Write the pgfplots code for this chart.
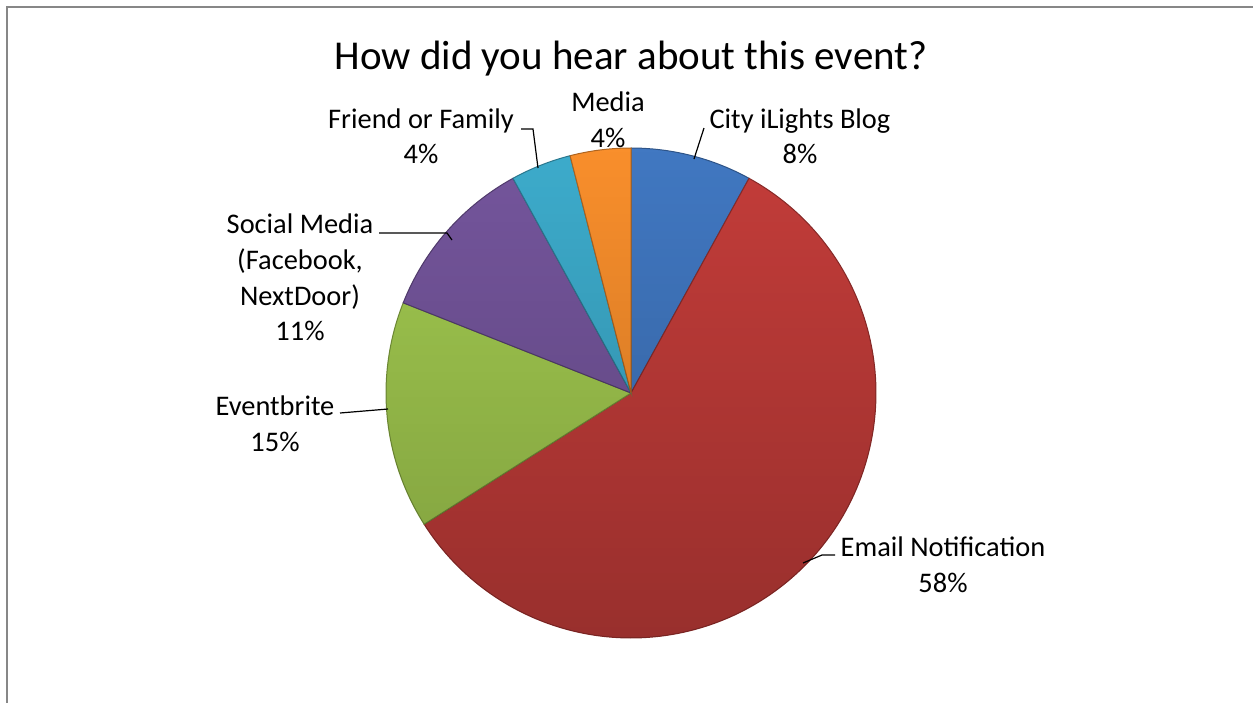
\documentclass[border=0pt]{standalone}
\usepackage{fontspec}
\setmainfont{Carlito}
\usepackage{pgfplots}
\pgfplotsset{compat=1.18}
\usetikzlibrary{fadings}
\definecolor{cBlue}{HTML}{4178C2}
\definecolor{cRed}{HTML}{C43D3A}
\definecolor{cGreen}{HTML}{A3CB50}
\definecolor{cPurple}{HTML}{75569D}
\definecolor{cAqua}{HTML}{3DACCC}
\definecolor{cOrange}{HTML}{F98F2C}
\newcommand{\lab}{\fontsize{14.2}{17}\selectfont}
\begin{document}
\begin{tikzpicture}[x=0.5pt,y=-0.5pt]
\path[use as bounding box] (0,0) rectangle (1253,702);
\draw[color=black!47, line width=1.1pt] (7,703) -- (7,7) -- (1254,7);
% shares in percent: City iLights Blog 8, Email Notification 58, Eventbrite 15,
% Social Media 11, Friend or Family 4, Media 4 (clockwise from the top)
\begin{axis}[at={(315.5pt,-196.5pt)}, anchor=center, x=122.5pt, y=122.5pt,
  xmin=-1.3, xmax=1.3, ymin=-1.3, ymax=1.3, hide axis, clip=false]
\addplot[fill=cBlue, draw=cBlue!70!black, line width=0.5pt, domain=90-3.6*8:90-3.6*0, samples=40] ({cos(x)},{sin(x)}) -- (axis cs:0,0) -- cycle;
\addplot[fill=cRed, draw=cRed!70!black, line width=0.5pt, domain=90-3.6*66:90-3.6*8, samples=150] ({cos(x)},{sin(x)}) -- (axis cs:0,0) -- cycle;
\addplot[fill=cGreen, draw=cGreen!70!black, line width=0.5pt, domain=90-3.6*81:90-3.6*66, samples=50] ({cos(x)},{sin(x)}) -- (axis cs:0,0) -- cycle;
\addplot[fill=cPurple, draw=cPurple!70!black, line width=0.5pt, domain=90-3.6*92:90-3.6*81, samples=40] ({cos(x)},{sin(x)}) -- (axis cs:0,0) -- cycle;
\addplot[fill=cAqua, draw=cAqua!70!black, line width=0.5pt, domain=90-3.6*96:90-3.6*92, samples=20] ({cos(x)},{sin(x)}) -- (axis cs:0,0) -- cycle;
\addplot[fill=cOrange, draw=cOrange!70!black, line width=0.5pt, domain=90-3.6*100:90-3.6*96, samples=20] ({cos(x)},{sin(x)}) -- (axis cs:0,0) -- cycle;
\addplot[draw=none, fill=black, path fading=north, fill opacity=0.22, domain=0:360, samples=180] ({cos(x)},{sin(x)}) -- cycle;
\end{axis}
% leader lines
\draw[line width=0.6pt] (694,159) -- (704,128);
\draw[line width=0.6pt] (521,129) -- (533,129) -- (538,168);
\draw[line width=0.6pt] (379,233) -- (447,233) -- (452,240);
\draw[line width=0.6pt] (340,413) -- (388,409);
\draw[line width=0.6pt] (803,563) -- (822,555) -- (835,555);
% title
\node[font=\fontsize{20.5}{24}\selectfont, anchor=base] at (631,69) {How did you hear about this event?};
% labels
\node[font=\lab, anchor=base] at (608,111) {Media};
\node[font=\lab, anchor=base] at (608,147) {4\%};
\node[font=\lab, anchor=base] at (800,128) {City iLights Blog};
\node[font=\lab, anchor=base] at (800,163) {8\%};
\node[font=\lab, anchor=base] at (421,128) {Friend or Family};
\node[font=\lab, anchor=base] at (421,163) {4\%};
\node[font=\lab, anchor=base] at (300,233) {Social Media};
\node[font=\lab, anchor=base] at (300,269) {(Facebook,};
\node[font=\lab, anchor=base] at (300,305) {NextDoor)};
\node[font=\lab, anchor=base] at (300,340) {11\%};
\node[font=\lab, anchor=base] at (275,415) {Eventbrite};
\node[font=\lab, anchor=base] at (275,451) {15\%};
\node[font=\lab, anchor=base] at (943,556) {Email Notification};
\node[font=\lab, anchor=base] at (943,592) {58\%};
\end{tikzpicture}
\end{document}
